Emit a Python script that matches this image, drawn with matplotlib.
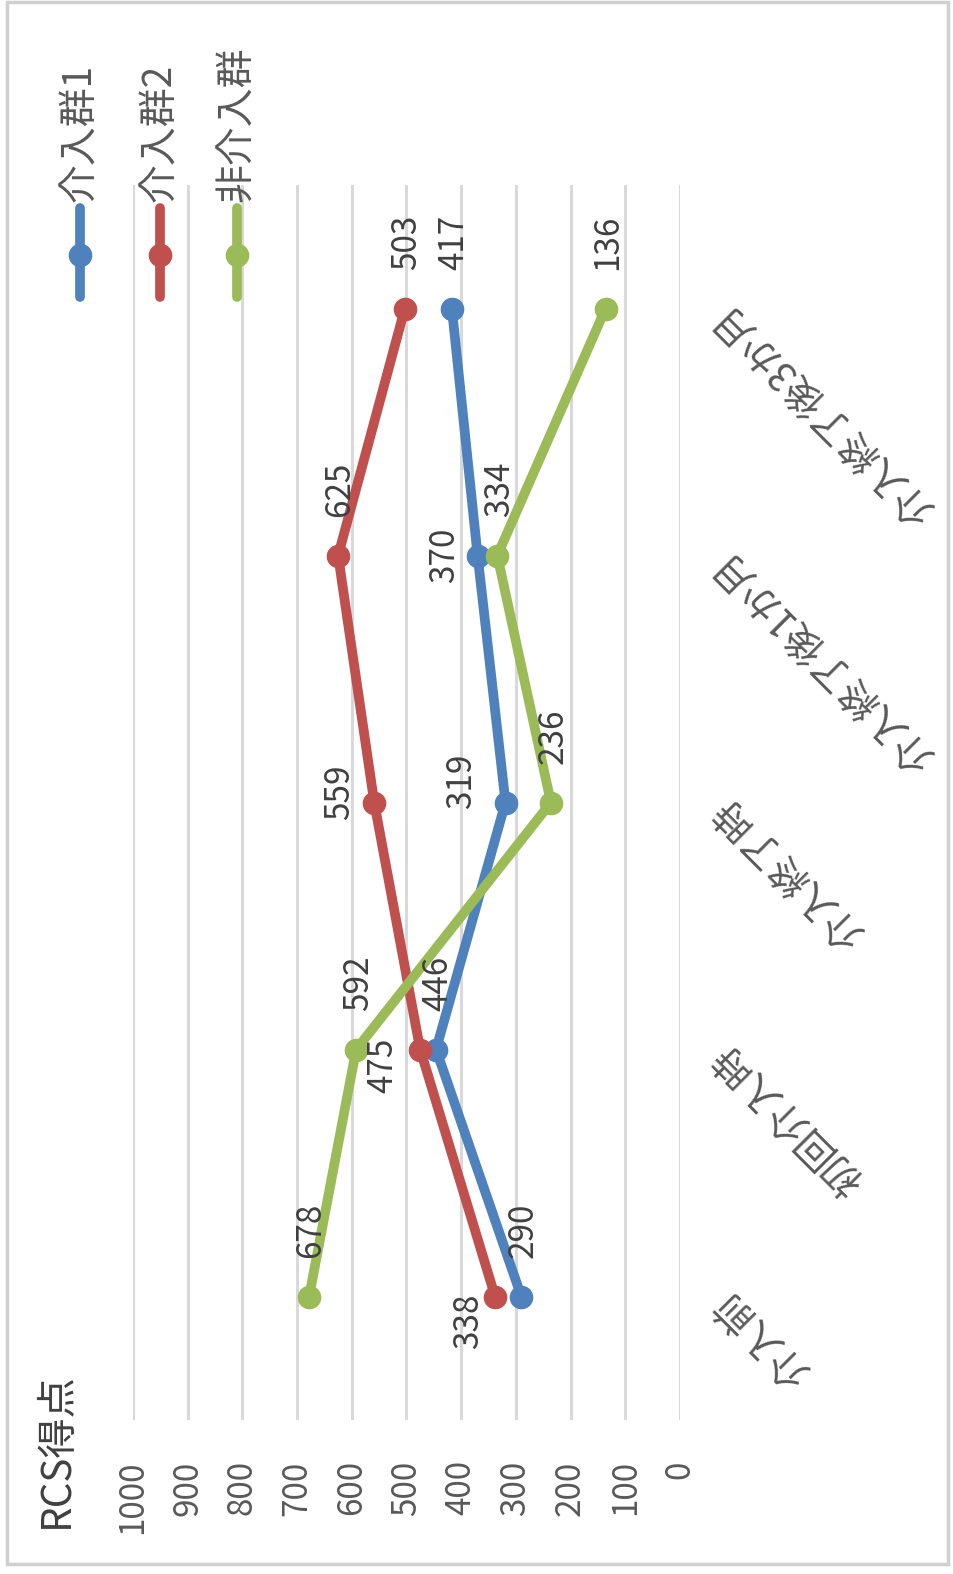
import matplotlib
matplotlib.use("Agg")
import matplotlib.pyplot as plt
from matplotlib.lines import Line2D
from matplotlib.patches import Rectangle

plt.rcParams['font.family'] = ['Noto Sans CJK JP', 'DejaVu Sans']

# データ
categories = ["介入前", "初回介入時", "介入終了時", "介入終了後1か月", "介入終了後3か月"]
series_names = ["介入群1", "介入群2", "非介入群"]
group1 = [290, 446, 319, 370, 417]
group2 = [338, 475, 559, 625, 503]
control = [678, 592, 236, 334, 136]
ticks = [0, 100, 200, 300, 400, 500, 600, 700, 800, 900, 1000]

colors = ["#4F81BD", "#C0504D", "#9BBB59"]
# ラベル位置のずらし (pt)
default_off = (1.4, 47.5)
label_off = {
    (0, 2): (-31.7, 15.1),
    (0, 3): (-23.8, 0),
    (1, 0): (-19.4, -18),
    (1, 1): (-26.6, -11.5),
    (1, 2): (-25.2, 7.2),
}

W, H = 954, 1574
fig = plt.figure(figsize=(W / 100, H / 100), dpi=100)
fig.patch.set_facecolor("white")

# グラフを90度回転した配置：値は横軸(右が0)、項目は縦軸(下から上)
ax = fig.add_axes([133 / W, (H - 1420) / H, 547 / W, (1420 - 185) / H])
ax.set_xlim(1000, 0)
ax.set_ylim(-0.5, len(categories) - 0.5)
for s in ax.spines.values():
    s.set_visible(False)
ax.set_xticks(ticks)
ax.set_xticklabels([str(t) for t in ticks], rotation=90, va="top", ha="center",
                   fontsize=24, color="#595959")
ax.tick_params(axis="x", length=0, pad=29)
ax.set_yticks([])
ax.grid(axis="x", color="#D9D9D9", lw=2.2)
ax.set_axisbelow(True)

pos = list(range(len(categories)))
for si, (vals, c) in enumerate(zip([group1, group2, control], colors)):
    ax.plot(vals, pos, color=c, lw=7, marker="o", ms=16, solid_capstyle="round", zorder=3)
    for i, v in enumerate(vals):
        dx, dy = label_off.get((si, i), default_off)
        ax.annotate(str(v), (v, i), xytext=(dx, dy), textcoords="offset points",
                    rotation=90, ha="center", va="center", fontsize=24, color="#404040",
                    zorder=4)

# 項目ラベル
for i, cat in enumerate(categories):
    ax.annotate(cat, (0, i), xytext=(29, 0), textcoords="offset points",
                rotation=135, rotation_mode="anchor", ha="right", va="center",
                fontsize=28, color="#595959", annotation_clip=False)

# 軸タイトル
fig.text(56 / W, 46 / H, "RCS得点", rotation=90, ha="center", va="bottom",
         fontsize=29, color="#404040")

# 凡例
for k, (name, c) in enumerate(zip(series_names, colors)):
    lx = [80, 160, 237][k] / W
    fig.add_artist(Line2D([lx, lx], [(H - 297) / H, (H - 208) / H], color=c, lw=7,
                          solid_capstyle="round"))
    fig.add_artist(Line2D([lx], [(H - 255) / H], color=c, marker="o", ms=16))
    fig.text(lx, (H - 202) / H, name, rotation=90, ha="center", va="bottom",
             fontsize=28, color="#595959")

# 外枠
fig.add_artist(Rectangle((7 / W, 10 / H), 941 / W, 1562 / H, transform=fig.transFigure,
                         fill=False, edgecolor="#D0D0D0", lw=2.5))

fig.savefig("out.png", dpi=100)
